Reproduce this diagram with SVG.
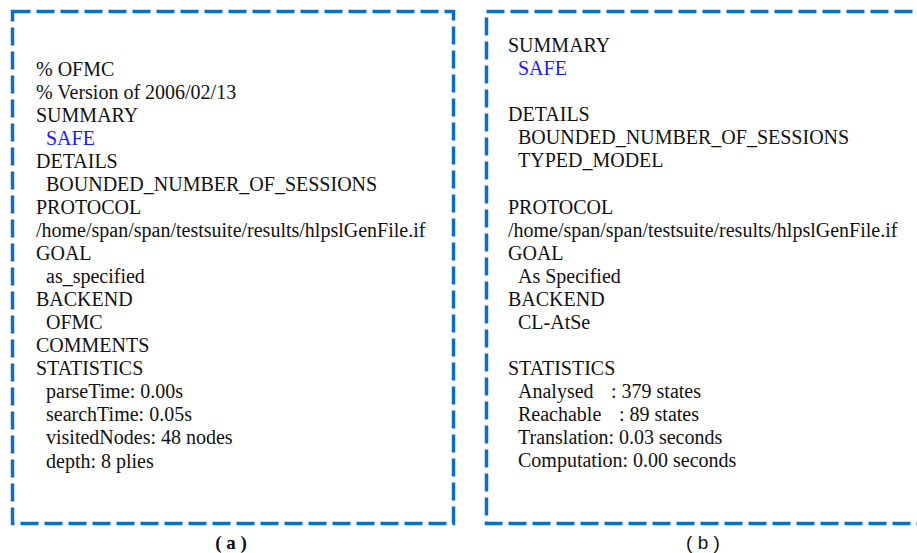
<svg xmlns="http://www.w3.org/2000/svg" width="917" height="553" viewBox="0 0 917 553">
<style>
.box{fill:none;stroke:#0a70c2;stroke-width:3.5;stroke-dasharray:18 6}
.t{font-family:"Liberation Serif","Times New Roman",serif;font-size:20px;fill:#111}
.blue{fill:#1a1aff}
.cap{font-size:19px;fill:#111;text-anchor:middle}
</style>
<rect width="917" height="553" fill="#fff"/>
<g id="panel-a">
<rect class="box" x="12.5" y="11.5" width="441" height="512"/>
<text class="t" x="36" y="76">% OFMC</text>
<text class="t" x="36" y="99">% Version of 2006/02/13</text>
<text class="t" x="36" y="122">SUMMARY</text>
<text class="t blue" x="46" y="145">SAFE</text>
<text class="t" x="36" y="168">DETAILS</text>
<text class="t" x="46" y="191">BOUNDED_NUMBER_OF_SESSIONS</text>
<text class="t" x="36" y="214">PROTOCOL</text>
<text class="t" x="36" y="237">/home/span/span/testsuite/results/hlpslGenFile.if</text>
<text class="t" x="36" y="260">GOAL</text>
<text class="t" x="46" y="283">as_specified</text>
<text class="t" x="36" y="306">BACKEND</text>
<text class="t" x="46" y="329">OFMC</text>
<text class="t" x="36" y="352">COMMENTS</text>
<text class="t" x="36" y="375">STATISTICS</text>
<text class="t" x="46" y="398">parseTime: 0.00s</text>
<text class="t" x="46" y="421">searchTime: 0.05s</text>
<text class="t" x="46" y="444">visitedNodes: 48 nodes</text>
<text class="t" x="46" y="468">depth: 8 plies</text>
<text class="cap" x="231" y="549" font-family="Liberation Serif, serif" font-weight="bold" xml:space="preserve">( a )</text>
</g>
<g id="panel-b">
<rect class="box" x="486.5" y="11.5" width="460" height="512"/>
<text class="t" x="508" y="52">SUMMARY</text>
<text class="t blue" x="518" y="75">SAFE</text>
<text class="t" x="508" y="121">DETAILS</text>
<text class="t" x="518" y="144">BOUNDED_NUMBER_OF_SESSIONS</text>
<text class="t" x="518" y="167">TYPED_MODEL</text>
<text class="t" x="508" y="214">PROTOCOL</text>
<text class="t" x="508" y="237">/home/span/span/testsuite/results/hlpslGenFile.if</text>
<text class="t" x="508" y="260">GOAL</text>
<text class="t" x="518" y="283">As Specified</text>
<text class="t" x="508" y="306">BACKEND</text>
<text class="t" x="518" y="329">CL-AtSe</text>
<text class="t" x="508" y="375">STATISTICS</text>
<text class="t" x="518" y="398">Analysed</text>
<text class="t" x="611" y="398">: 379 states</text>
<text class="t" x="518" y="421">Reachable</text>
<text class="t" x="619" y="421">: 89 states</text>
<text class="t" x="518" y="444">Translation: 0.03 seconds</text>
<text class="t" x="518" y="467">Computation: 0.00 seconds</text>
<text class="cap" x="703" y="549" font-family="Liberation Sans, sans-serif" xml:space="preserve">( b )</text>
</g>
</svg>
